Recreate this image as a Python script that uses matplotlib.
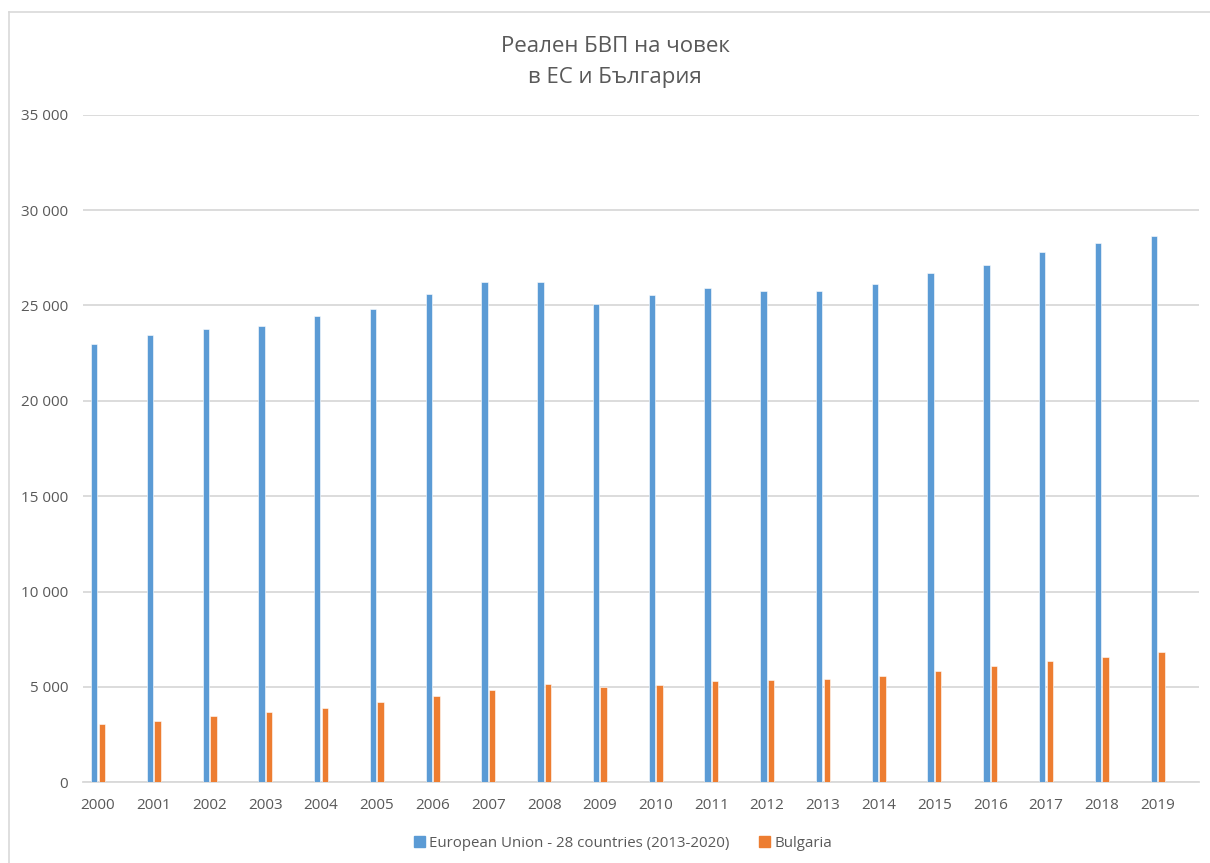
import matplotlib
matplotlib.use("Agg")
import matplotlib.pyplot as plt
from matplotlib.lines import Line2D
from matplotlib.ticker import FixedLocator, FuncFormatter
import numpy as np

# Real GDP per capita, EU-28 vs Bulgaria (EUR)
years = [str(y) for y in range(2000, 2020)]
eu28 = [22980, 23450, 23750, 23920, 24450, 24830, 25580, 26250, 26250, 25060,
        25530, 25920, 25780, 25780, 26140, 26720, 27140, 27810, 28280, 28660]
bulgaria = [3040, 3230, 3460, 3670, 3900, 4200, 4510, 4840, 5140, 5000,
            5100, 5330, 5380, 5420, 5580, 5820, 6100, 6350, 6570, 6820]
y_ticks = [0, 5000, 10000, 15000, 20000, 25000, 30000, 35000]

series_names = ["European Union - 28 countries (2013-2020)", "Bulgaria"]
title = "Реален БВП на човек\nв ЕС и България"

BLUE = "#5B9BD5"
ORANGE = "#ED7D31"
TEXT = "#595959"
GRID = "#D9D9D9"
FONT = ["Open Sans", "DejaVu Sans"]

plt.rcParams["font.family"] = FONT

W, H = 1210, 863
fig = plt.figure(figsize=(W / 100, H / 100), dpi=100)
fig.patch.set_facecolor("white")

# chart frame (left and top edges)
fig.add_artist(Line2D([9 / W, 9 / W], [0, 1 - 12 / H], transform=fig.transFigure,
                      color="#D9D9D9", lw=1.2))
fig.add_artist(Line2D([9 / W, 1], [1 - 12 / H, 1 - 12 / H], transform=fig.transFigure,
                      color="#D9D9D9", lw=1.2))

left, right = 83.3 / W, 1199 / W
bottom, top = 1 - 782.3 / H, 1 - 114.7 / H
ax = fig.add_axes([left, bottom, right - left, top - bottom])

x = np.arange(len(years))
bw = 0.115
ax.bar(x - 0.068, eu28, width=bw, color=BLUE, edgecolor="white", linewidth=0.4,
       label=series_names[0], zorder=3)
ax.bar(x + 0.068, bulgaria, width=bw, color=ORANGE, edgecolor="white", linewidth=0.4,
       label=series_names[1], zorder=3)

ax.set_xlim(-0.264, 19.744)
ax.set_ylim(0, 35000)
ax.yaxis.set_major_locator(FixedLocator(y_ticks))
ax.yaxis.set_major_formatter(FuncFormatter(lambda v, p: f"{int(v):,}".replace(",", " ")))
ax.set_xticks(x)
ax.set_xticklabels(years)

ax.grid(axis="y", color=GRID, linewidth=1.3, zorder=0)
ax.set_axisbelow(True)
for s in ["top", "right", "left"]:
    ax.spines[s].set_visible(False)
ax.spines["bottom"].set_color(GRID)
ax.spines["bottom"].set_linewidth(1.3)
ax.tick_params(axis="both", length=0, colors=TEXT, labelsize=11)
ax.tick_params(axis="y", pad=11)
ax.tick_params(axis="x", pad=11)

fig.text(615 / W, 1 - 62 / H, title, ha="center", va="center", fontsize=16,
         color=TEXT, linespacing=1.65)

# legend
handles = [plt.Rectangle((0, 0), 1, 1, color=BLUE), plt.Rectangle((0, 0), 1, 1, color=ORANGE)]
fig.legend(handles, series_names, loc="center", bbox_to_anchor=(0.515, 1 - 843 / H),
           ncol=2, frameon=False, fontsize=10.8, labelcolor=TEXT,
           handlelength=0.7, handleheight=0.7, handletextpad=0.3, columnspacing=2.0)

fig.savefig("out.png", dpi=100, facecolor="white")
